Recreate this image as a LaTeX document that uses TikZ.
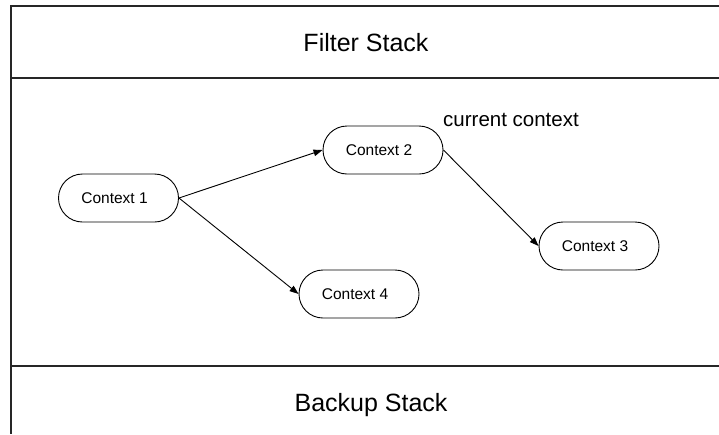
\documentclass[tikz,border=0pt]{standalone}
\usepackage{fontspec}
\setmainfont{Liberation Sans}
\usetikzlibrary{shapes.misc,arrows.meta}
\begin{document}
\begin{tikzpicture}[x=1pt,y=1pt,
  frame/.style={line width=1.4pt,black!85},
  ctx/.style={rounded rectangle,draw,line width=0.9pt,minimum width=120pt,minimum height=48pt,inner sep=0pt,font=\fontsize{15.5}{18}\selectfont},
  link/.style={line width=0.9pt,-{Triangle[length=9pt,width=6.5pt]}},
  title/.style={font=\fontsize{25}{29}\selectfont}]
  \useasboundingbox (0,0) rectangle (719,-434);
  % stack frame
  \draw[frame] (719,-6) -- (11,-6) -- (11,-434);
  \draw[frame] (11,-78) -- (719,-78);
  \draw[frame] (11,-366) -- (719,-366);
  \node[title] (filter) at (366,-43) {Filter Stack};
  \node[title] (backup) at (371,-405) {Backup Stack};
  % contexts (labels sit a little left of centre)
  \node[ctx] (c1) at (118.5,-198) {Context 1\hspace*{8pt}};
  \node[ctx] (c2) at (383,-150) {Context 2\hspace*{8pt}};
  \node[ctx] (c3) at (599,-246) {Context 3\hspace*{8pt}};
  \node[ctx] (c4) at (359,-294) {Context 4\hspace*{8pt}};
  \node[font=\fontsize{20.5}{24}\selectfont,anchor=base west,inner sep=0pt] (cur) at (443,-126) {current context};
  % transitions
  \draw[link] (c1.east) -- (c2.west);
  \draw[link] (c1.east) -- (c4.west);
  \draw[link] (c2.east) -- (c3.west);
\end{tikzpicture}
\end{document}
